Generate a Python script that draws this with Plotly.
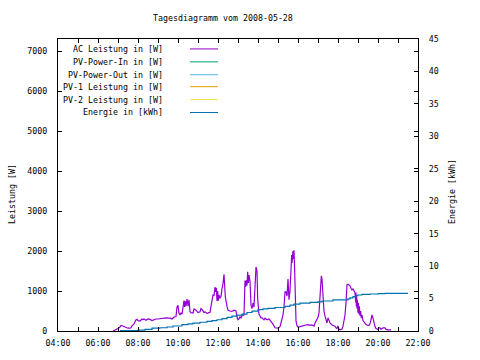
import plotly.graph_objects as go

DAY = "2008-05-28 "

# AC Leistung in [W]
ac_times = ["06:45","06:51","06:57","07:00","07:06","07:09","07:12","07:18","07:24","07:30","07:36","07:39","07:42","07:48","07:54","07:57",
"08:00","08:06","08:12","08:15","08:18","08:24","08:30","08:36","08:42","08:48","08:54","09:00","09:06","09:12","09:18","09:24","09:30","09:36","09:42","09:48","09:54","09:57",
"10:00","10:03","10:06","10:09","10:12","10:15","10:18","10:20","10:22","10:24","10:27","10:30","10:33","10:36","10:39","10:45","10:48","10:54",
"11:00","11:06","11:09","11:12","11:18","11:21","11:27","11:33","11:36","11:42","11:45","11:48","11:51","11:53","11:55","11:57","11:59",
"12:01","12:03","12:06","12:09","12:12","12:15","12:18","12:20","12:22","12:27","12:30","12:36","12:42","12:48","12:54","12:57",
"13:00","13:03","13:06","13:09","13:12","13:18","13:21","13:23","13:25","13:27","13:29","13:31","13:33","13:36","13:39","13:42","13:45","13:48","13:51","13:54","13:57","13:59",
"14:03","14:06","14:09","14:12","14:18","14:21","14:27","14:33","14:36","14:42","14:45","14:51","14:54",
"15:00","15:06","15:09","15:12","15:15","15:18","15:21","15:24","15:27","15:30","15:33","15:36","15:39","15:41","15:42","15:43","15:44","15:45","15:46","15:47","15:48","15:50","15:51","15:52","15:54","15:57",
"16:00","16:06","16:12","16:18","16:24","16:30","16:36","16:42","16:48","16:51","16:57",
"17:00","17:03","17:06","17:08","17:10","17:12","17:14","17:16","17:18","17:21","17:24","17:27","17:30","17:33","17:36","17:42","17:48","17:51","17:54","17:57",
"18:00","18:03","18:06","18:12","18:15","18:18","18:21","18:24","18:27","18:30","18:33","18:36","18:39","18:42","18:45","18:48","18:51","18:53","18:54","18:55","18:56","18:57","18:58",
"19:00","19:01","19:03","19:04","19:06","19:08","19:10","19:12","19:15","19:18","19:21","19:24","19:30","19:33","19:36","19:39","19:42","19:45","19:48","19:51","19:54","19:57",
"20:00","20:03","20:06","20:09","20:12","20:15","20:21","20:24","20:30","20:36","20:39"]
ac_w = [0,20,40,60,100,140,130,110,70,70,70,80,130,180,280,290,
260,250,300,280,300,270,300,290,260,290,300,300,310,320,330,330,320,320,300,350,360,600,
640,440,400,450,420,650,760,600,740,620,800,620,780,480,460,450,550,520,
460,480,560,540,460,480,440,460,470,760,900,880,1100,980,1080,750,1000,
760,900,820,860,1060,1180,1420,1100,850,620,520,500,490,520,500,350,
280,300,360,320,380,400,1260,1100,1270,1140,1480,1200,1400,1240,640,560,700,600,1200,1600,1500,800,
420,370,330,330,280,320,280,300,270,220,170,80,70,
70,110,200,300,400,600,980,980,870,1300,780,1000,1600,1900,1700,2000,1750,2000,1800,1950,2020,1500,800,400,250,130,
100,110,130,150,150,160,140,150,120,200,280,
340,450,900,1150,1380,1300,1000,700,500,370,280,200,330,260,200,150,140,120,80,60,
130,40,30,50,120,250,400,700,1160,1170,1150,1130,1070,1030,1050,990,960,720,960,620,870,560,780,
460,700,420,620,380,500,320,400,260,220,200,160,140,140,180,300,400,320,200,110,60,40,
40,80,80,40,70,80,80,40,30,30,30]

# Energie in [kWh]
e_times = ["07:06","07:30","08:00","08:21","08:42","09:06","09:27","09:45","10:12","10:30","10:45","11:06","11:27","11:42","11:57",
"12:12","12:27","12:42","12:57","13:12","13:27","13:42","14:00","14:15","14:30","14:51","15:21","15:36","15:48","16:06","16:36",
"17:00","17:12","17:45","18:30","18:36","18:45","18:54","19:00","19:12","19:36","20:00","20:21","21:30"]
e_kwh = [0.05,0.08,0.15,0.25,0.45,0.5,0.62,0.77,0.97,1.1,1.22,1.35,1.48,1.6,1.73,
1.9,2.1,2.3,2.45,2.6,2.85,3.05,3.3,3.4,3.5,3.62,3.8,4.0,4.15,4.3,4.4,
4.5,4.62,4.8,4.95,5.1,5.3,5.45,5.55,5.65,5.7,5.75,5.8,5.8]

series_names = ["AC Leistung in [W]", "PV-Power-In in [W]", "PV-Power-Out in [W]",
                "PV-1 Leistung in [W]", "PV-2 Leistung in [W]", "Energie in [kWh]"]
series_colors = ["#9400D3", "#009E73", "#56B4E9", "#E69F00", "#F0E442", "#0072B2"]

x_ticks = ["04:00","06:00","08:00","10:00","12:00","14:00","16:00","18:00","20:00","22:00"]

FONT = "DejaVu Sans Mono"
FS = 8.3

fig = go.Figure()
fig.add_trace(go.Scatter(x=[DAY + t for t in ac_times], y=ac_w, mode="lines",
                         line=dict(color=series_colors[0], width=1.2), name=series_names[0],
                         yaxis="y"))
for i in range(1, 5):
    fig.add_trace(go.Scatter(x=[], y=[], mode="lines", line=dict(color=series_colors[i], width=1),
                             name=series_names[i], yaxis="y"))
fig.add_trace(go.Scatter(x=[DAY + t for t in e_times], y=e_kwh, mode="lines", line_shape="hv",
                         line=dict(color=series_colors[5], width=1.2), name=series_names[5],
                         yaxis="y2"))

L, R, T, B = 58, 418, 39, 333
W, H = 480, 360
pw, ph = R - L, B - T

annotations = []
shapes = []
row_y = [49, 62, 75, 87, 100, 113]
for name, col, yy in zip(series_names, series_colors, row_y):
    py = (B - yy) / ph
    annotations.append(dict(text=name, xref="paper", yref="paper", x=(165 - L) / pw, y=py,
                            xanchor="right", yanchor="middle", showarrow=False,
                            font=dict(family=FONT, size=FS, color="black")))
    shapes.append(dict(type="line", xref="paper", yref="paper", x0=(190 - L) / pw, x1=(218 - L) / pw,
                       y0=py, y1=py, line=dict(color=col, width=1)))

annotations.append(dict(text="Tagesdiagramm vom 2008-05-28", xref="paper", yref="paper",
                        x=(223 - L) / pw, y=(B - 18) / ph, xanchor="center", yanchor="middle",
                        showarrow=False, font=dict(family=FONT, size=FS, color="black")))
annotations.append(dict(text="Leistung [W]", xref="paper", yref="paper", textangle=-90,
                        x=(12 - L) / pw, y=(B - 195) / ph, xanchor="center", yanchor="middle",
                        showarrow=False, font=dict(family=FONT, size=FS, color="black")))
annotations.append(dict(text="Energie [kWh]", xref="paper", yref="paper", textangle=-90,
                        x=(452 - L) / pw, y=(B - 193) / ph, xanchor="center", yanchor="middle",
                        showarrow=False, font=dict(family=FONT, size=FS, color="black")))

fig.update_layout(
    width=W, height=H,
    margin=dict(l=L, r=W - R, t=T, b=H - B, pad=0),
    paper_bgcolor="white", plot_bgcolor="white",
    showlegend=False,
    font=dict(family=FONT, size=FS, color="black"),
    annotations=annotations, shapes=shapes,
    xaxis=dict(type="date", range=[DAY + "04:00", DAY + "22:00"],
               tickvals=[DAY + t for t in x_ticks], ticktext=x_ticks,
               ticks="inside", ticklen=4, tickcolor="black",
               minor=dict(dtick=3600000, ticks="inside", ticklen=4, tickcolor="black"),
               showline=True, linecolor="black", linewidth=1, mirror="ticks",
               showgrid=False, zeroline=False, ticklabelstandoff=4,
               tickfont=dict(family=FONT, size=FS, color="black")),
    yaxis=dict(range=[0, 7300], dtick=1000, tick0=0, ticks="inside", ticklen=4, tickcolor="black",
               showline=True, linecolor="black", linewidth=1, mirror="ticks",
               showgrid=False, zeroline=False, ticklabelstandoff=8,
               tickfont=dict(family=FONT, size=FS, color="black")),
    yaxis2=dict(range=[0, 45], dtick=5, tick0=0, overlaying="y", side="right",
                ticks="inside", ticklen=4, tickcolor="black",
                showline=True, linecolor="black", linewidth=1,
                showgrid=False, zeroline=False, ticklabelstandoff=8,
                tickfont=dict(family=FONT, size=FS, color="black")),
)

fig.write_html("out.html", config={"displayModeBar": False},
               post_script="document.body.style.margin='0px';")
